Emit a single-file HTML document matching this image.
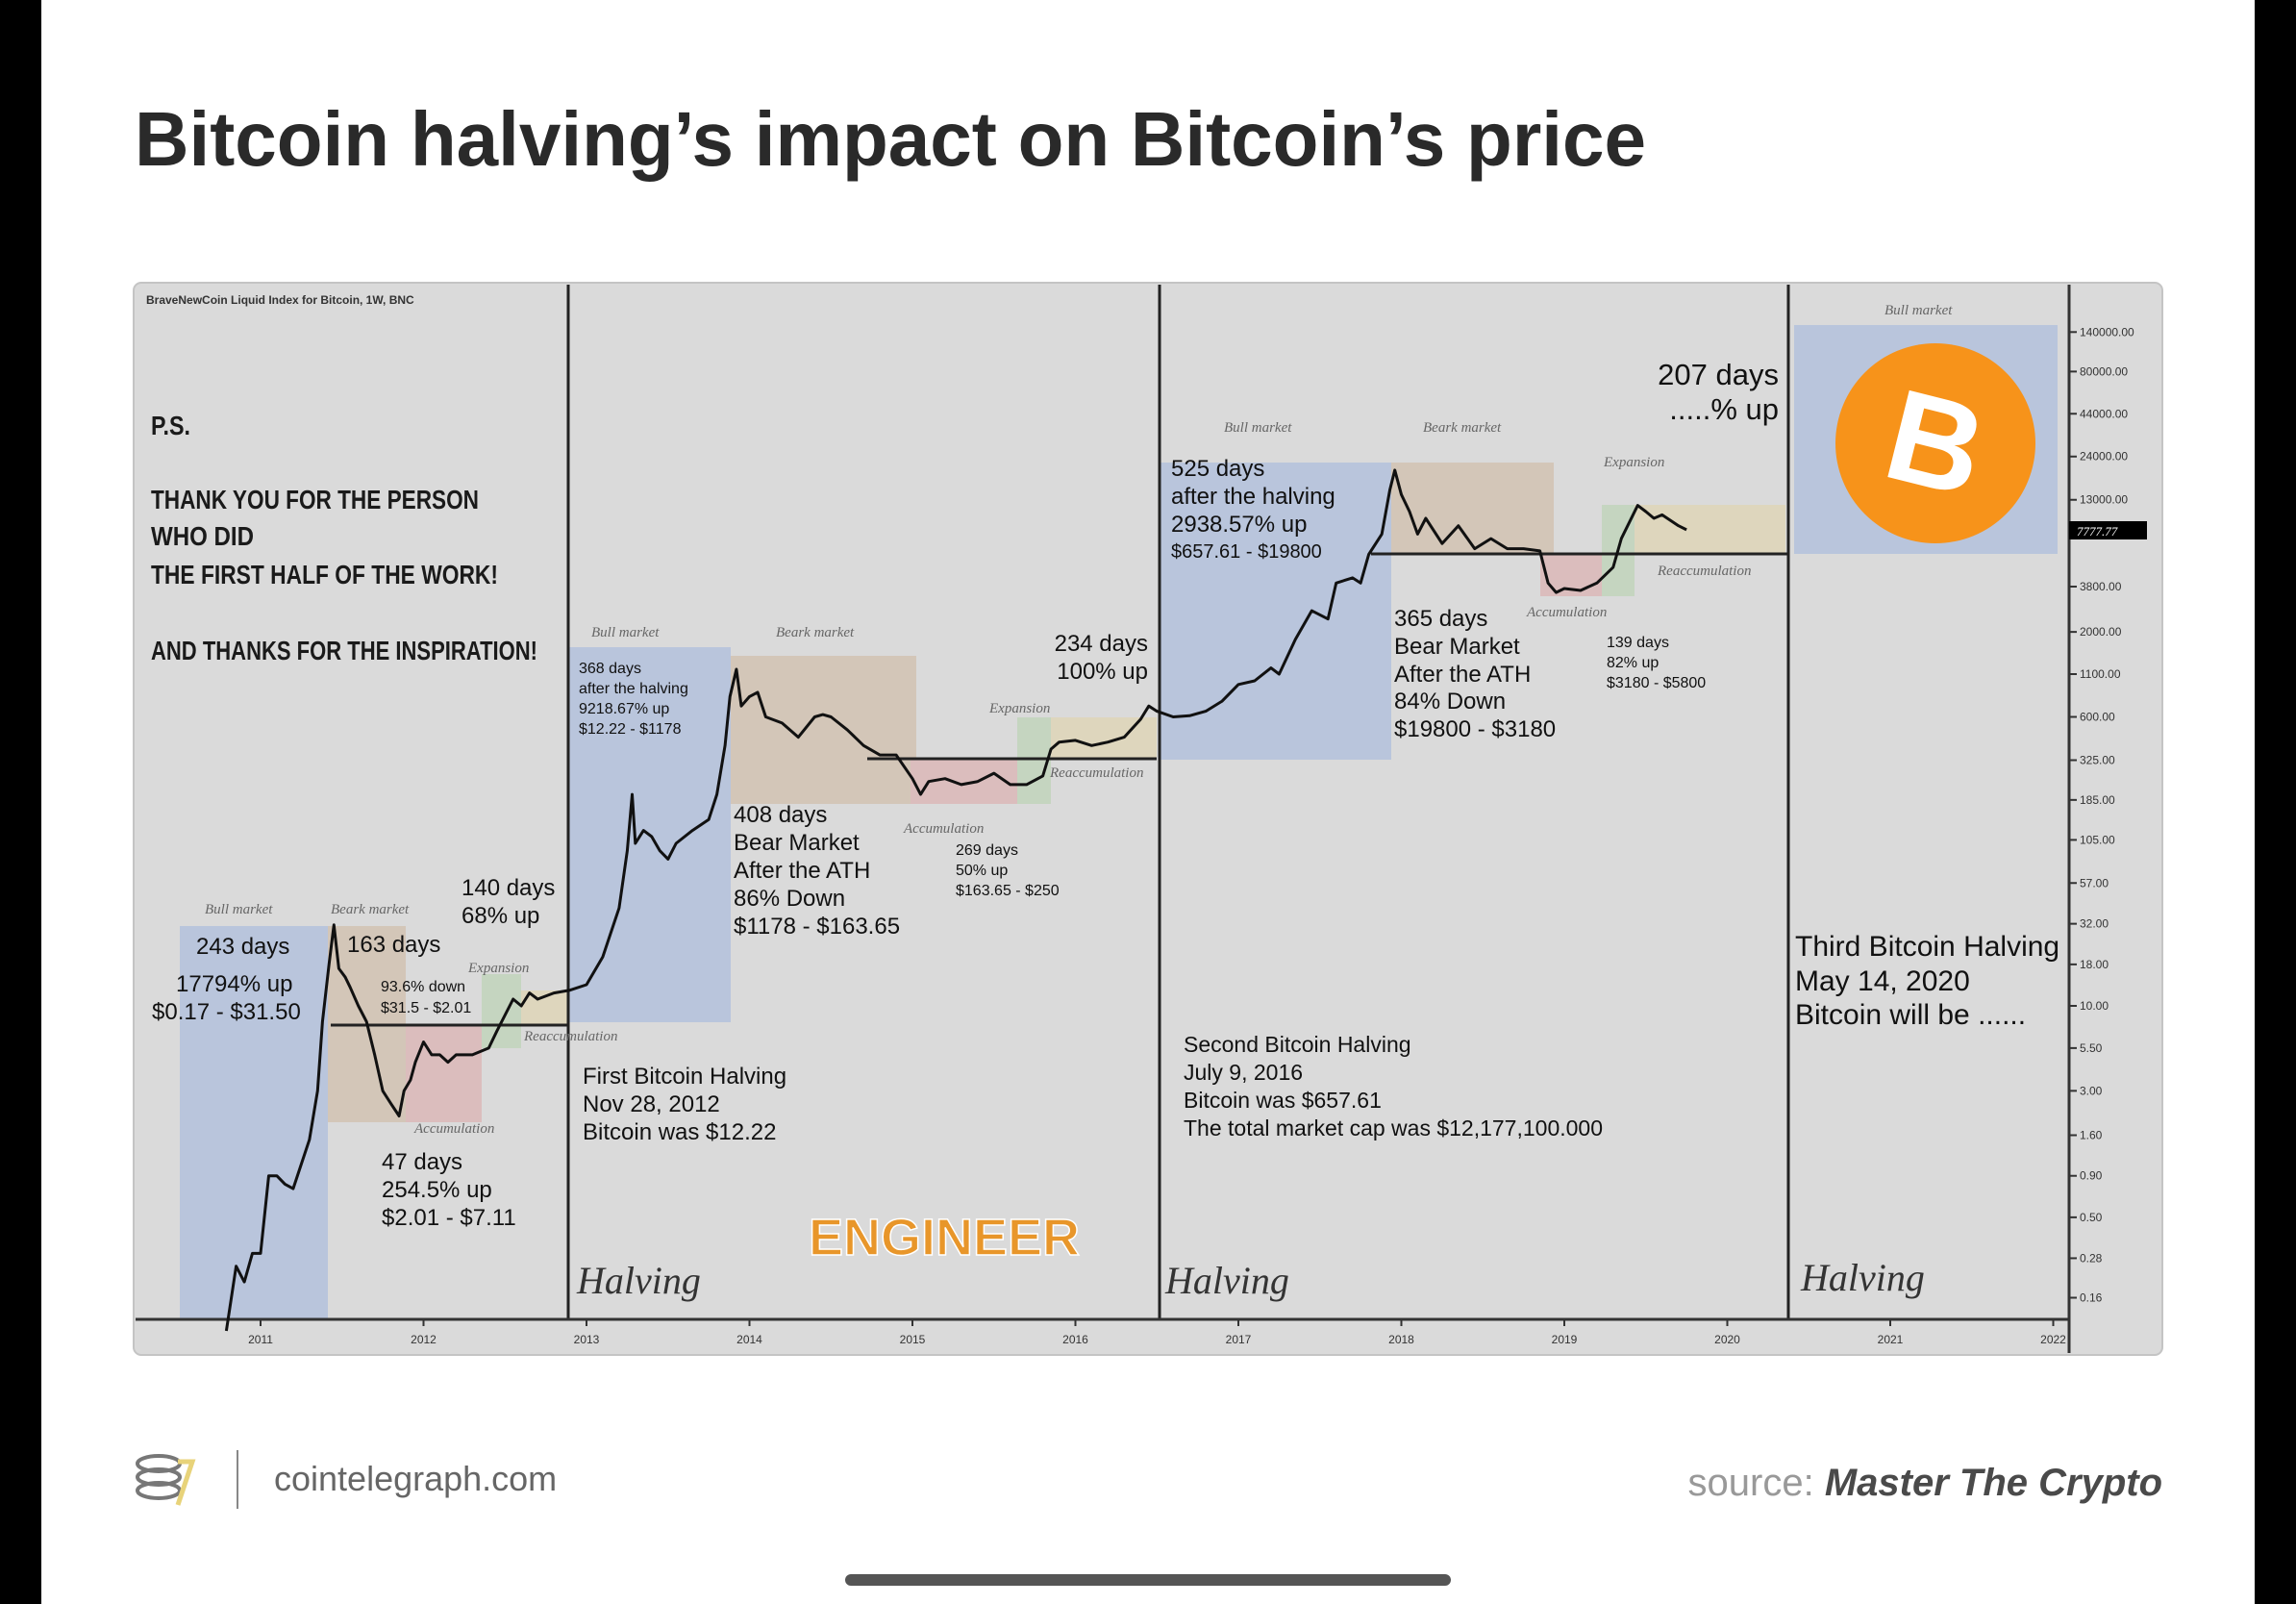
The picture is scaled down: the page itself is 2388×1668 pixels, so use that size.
<!DOCTYPE html>
<html><head><meta charset="utf-8"><style>
html,body{margin:0;padding:0;background:#fff;}
svg{display:block;}
.cond{font-family:"Liberation Sans Narrow","Liberation Sans",sans-serif;font-weight:bold;}
.sans{font-family:"Liberation Sans",sans-serif;}
.it{font-family:"Liberation Serif",serif;font-style:italic;fill:#666;font-size:15px;}
</style></head><body>
<svg id="root" width="2388" height="1668" viewBox="0 0 2388 1668" xmlns="http://www.w3.org/2000/svg">
<rect x="0" y="0" width="2388" height="1668" fill="#fff"/>
<rect x="0" y="0" width="43" height="1668" fill="#000"/>
<rect x="2345" y="0" width="43" height="1668" fill="#000"/>
<text x="140" y="172" class="sans" font-weight="bold" font-size="80" fill="#2a2a2a" textLength="1572" lengthAdjust="spacingAndGlyphs">Bitcoin halving’s impact on Bitcoin’s price</text>

<g>
<rect x="139" y="294" width="2110" height="1115" rx="8" fill="#dadada" stroke="#c4c4c4" stroke-width="2"/>
<g id="boxes">
<rect x="187" y="963" width="154" height="408" fill="#b9c5dc"/>
<rect x="341" y="963" width="81" height="204" fill="#d3c6b8"/>
<rect x="422" y="1066" width="79" height="101" fill="#dbbdbd"/>
<rect x="501" y="1013" width="41" height="77" fill="#c5d5c0"/>
<rect x="542" y="1030" width="49" height="36" fill="#ded6bd"/>
<rect x="592" y="673" width="168" height="390" fill="#b9c5dc"/>
<rect x="760" y="682" width="193" height="154" fill="#d3c6b8"/>
<rect x="947" y="789" width="111" height="47" fill="#dbbdbd"/>
<rect x="1058" y="746" width="35" height="90" fill="#c5d5c0"/>
<rect x="1093" y="746" width="110" height="43" fill="#ded6bd"/>
<rect x="1206" y="481" width="241" height="309" fill="#b9c5dc"/>
<rect x="1447" y="481" width="169" height="95" fill="#d3c6b8"/>
<rect x="1602" y="576" width="81" height="44" fill="#dbbdbd"/>
<rect x="1666" y="525" width="34" height="95" fill="#c5d5c0"/>
<rect x="1700" y="525" width="157" height="51" fill="#ded6bd"/>
<rect x="1866" y="338" width="274" height="238" fill="#b9c5dc"/>
</g>
<line x1="344" y1="1066" x2="591" y2="1066" stroke="#222" stroke-width="3"/>
<line x1="902" y1="789" x2="1203" y2="789" stroke="#222" stroke-width="3"/>
<line x1="1426" y1="576" x2="1860" y2="576" stroke="#222" stroke-width="3"/>
<line x1="591" y1="296" x2="591" y2="1372" stroke="#222" stroke-width="3"/>
<line x1="1206" y1="296" x2="1206" y2="1372" stroke="#222" stroke-width="3"/>
<line x1="1860" y1="296" x2="1860" y2="1372" stroke="#222" stroke-width="3"/>
<line x1="141" y1="1372" x2="2152" y2="1372" stroke="#333" stroke-width="3"/>
<line x1="2152" y1="296" x2="2152" y2="1407" stroke="#333" stroke-width="3"/>
<g id="xaxis"></g>
<g id="yaxis"></g>
<polyline id="price" fill="none" stroke="#111" stroke-width="3" stroke-linejoin="round"/>
<rect x="2152" y="542" width="81" height="19" fill="#000"/>
<text x="2160" y="557" font-size="13" fill="#fff" font-family="Liberation Serif,serif" font-style="italic">7777.77</text>

<circle cx="2013" cy="461" r="104" fill="#f7931a"/>
<text x="2013" y="507" text-anchor="middle" class="sans" font-weight="bold" font-size="135" fill="#fff" transform="rotate(14 2013 461)">B</text>

<text x="152" y="316" class="sans" font-weight="bold" font-size="12" fill="#333">BraveNewCoin Liquid Index for Bitcoin, 1W, BNC</text>
<g class="cond" font-size="28" fill="#1a1a1a">
<text x="157" y="452" textLength="41" lengthAdjust="spacingAndGlyphs">P.S.</text>
<text x="157" y="529" textLength="341" lengthAdjust="spacingAndGlyphs">THANK YOU FOR THE PERSON</text>
<text x="157" y="567" textLength="107" lengthAdjust="spacingAndGlyphs">WHO DID</text>
<text x="157" y="607" textLength="361" lengthAdjust="spacingAndGlyphs">THE FIRST HALF OF THE WORK!</text>
<text x="157" y="686" textLength="402" lengthAdjust="spacingAndGlyphs">AND THANKS FOR THE INSPIRATION!</text>
</g>

<g class="sans" fill="#111" font-size="24">
<text x="204" y="992">243 days</text>
<text x="183" y="1031">17794% up</text>
<text x="158" y="1060">$0.17 - $31.50</text>
<text x="361" y="990">163 days</text>
<text x="480" y="931">140 days</text>
<text x="480" y="960">68% up</text>
<text x="397" y="1216">47 days</text>
<text x="397" y="1245">254.5% up</text>
<text x="397" y="1274">$2.01 - $7.11</text>
<text x="763" y="855">408 days</text>
<text x="763" y="884">Bear Market</text>
<text x="763" y="913">After the ATH</text>
<text x="763" y="942">86% Down</text>
<text x="763" y="971">$1178 - $163.65</text>
<text x="1194" y="677" text-anchor="end">234 days</text>
<text x="1194" y="706" text-anchor="end">100% up</text>
<text x="606" y="1127">First Bitcoin Halving</text>
<text x="606" y="1156">Nov 28, 2012</text>
<text x="606" y="1185">Bitcoin was $12.22</text>
<text x="1218" y="495">525 days</text>
<text x="1218" y="524">after the halving</text>
<text x="1218" y="553">2938.57% up</text>
<text x="1218" y="580" font-size="20">$657.61 - $19800</text>
<text x="1450" y="651">365 days</text>
<text x="1450" y="680">Bear Market</text>
<text x="1450" y="709">After the ATH</text>
<text x="1450" y="737">84% Down</text>
<text x="1450" y="766">$19800 - $3180</text>
<text x="1850" y="400" text-anchor="end" font-size="31">207 days</text>
<text x="1850" y="436" text-anchor="end" font-size="31">.....% up</text>
<text x="1231" y="1094" font-size="23">Second Bitcoin Halving</text>
<text x="1231" y="1123" font-size="23">July 9, 2016</text>
<text x="1231" y="1152" font-size="23">Bitcoin was $657.61</text>
<text x="1231" y="1181" font-size="23">The total market cap was $12,177,100.000</text>
<text x="1867" y="994" font-size="30">Third Bitcoin Halving</text>
<text x="1867" y="1030" font-size="30">May 14, 2020</text>
<text x="1867" y="1065" font-size="30">Bitcoin will be ......</text>
</g>
<g class="sans" fill="#111" font-size="16">
<text x="396" y="1031">93.6% down</text>
<text x="396" y="1053">$31.5 - $2.01</text>
<text x="602" y="700">368 days</text>
<text x="602" y="721">after the halving</text>
<text x="602" y="742">9218.67% up</text>
<text x="602" y="763">$12.22 - $1178</text>
<text x="994" y="889">269 days</text>
<text x="994" y="910">50% up</text>
<text x="994" y="931">$163.65 - $250</text>
<text x="1671" y="673">139 days</text>
<text x="1671" y="694">82% up</text>
<text x="1671" y="715">$3180 - $5800</text>
</g>
<g class="it">
<text x="213" y="950">Bull market</text><text x="344" y="950">Beark market</text>
<text x="487" y="1011">Expansion</text><text x="545" y="1082">Reaccumulation</text><text x="431" y="1178">Accumulation</text>
<text x="615" y="662">Bull market</text><text x="807" y="662">Beark market</text>
<text x="1029" y="741">Expansion</text><text x="1092" y="808">Reaccumulation</text><text x="940" y="866">Accumulation</text>
<text x="1273" y="449">Bull market</text><text x="1480" y="449">Beark market</text>
<text x="1668" y="485">Expansion</text><text x="1724" y="598">Reaccumulation</text><text x="1588" y="641">Accumulation</text>
<text x="1960" y="327">Bull market</text>
</g>
<g font-family="Liberation Serif,serif" font-style="italic" font-size="40" fill="#333">
<text x="600" y="1345">Halving</text><text x="1212" y="1345">Halving</text><text x="1873" y="1342">Halving</text>
</g>
<text x="982" y="1305" text-anchor="middle" class="sans" font-weight="bold" font-size="54" fill="#e8962a" stroke="#fff" stroke-width="1.5">ENGINEER</text>
</g>

<g>
<g fill="none" stroke="#777" stroke-width="4">
<ellipse cx="165" cy="1522" rx="22" ry="8"/><ellipse cx="165" cy="1536" rx="22" ry="8"/><ellipse cx="165" cy="1550" rx="22" ry="8"/>
<path d="M185 1520 L200 1520 L185 1565" stroke="#e8d37a" stroke-width="5"/>
</g>
<line x1="247" y1="1508" x2="247" y2="1569" stroke="#888" stroke-width="2"/>
<text x="285" y="1550" class="sans" font-size="36" fill="#666">cointelegraph.com</text>
<text x="2249" y="1555" text-anchor="end" font-size="40"><tspan class="sans" fill="#999">source: </tspan><tspan class="sans" font-style="italic" font-weight="bold" fill="#4a4a4a">Master The Crypto</tspan></text>
</g>
<rect x="879" y="1637" width="630" height="12" rx="6" fill="#555"/>
</svg>
<script>
const years = [2011,2012,2013,2014,2015,2016,2017,2018,2019,2020,2021,2022];
const yTickValues = [140000,80000,44000,24000,13000,3800,2000,1100,600,325,185,105,57,32,18,10,5.5,3,1.6,0.9,0.5,0.28,0.16];
const priceDates = [2010.79,2010.85,2010.9,2010.95,2011.0,2011.05,2011.1,2011.15,2011.2,2011.3,2011.35,2011.38,2011.42,2011.45,2011.48,2011.52,2011.55,2011.6,2011.65,2011.7,2011.75,2011.8,2011.85,2011.88,2011.92,2011.95,2012.0,2012.05,2012.1,2012.15,2012.2,2012.3,2012.4,2012.45,2012.55,2012.6,2012.65,2012.7,2012.8,2012.9,2013.0,2013.1,2013.2,2013.25,2013.28,2013.3,2013.35,2013.4,2013.45,2013.5,2013.55,2013.65,2013.75,2013.8,2013.85,2013.88,2013.92,2013.95,2014.0,2014.05,2014.1,2014.2,2014.3,2014.4,2014.45,2014.5,2014.6,2014.7,2014.8,2014.9,2015.0,2015.05,2015.1,2015.2,2015.3,2015.4,2015.5,2015.6,2015.7,2015.8,2015.85,2015.9,2016.0,2016.1,2016.2,2016.3,2016.4,2016.45,2016.5,2016.6,2016.7,2016.8,2016.9,2017.0,2017.1,2017.2,2017.25,2017.35,2017.45,2017.55,2017.6,2017.7,2017.75,2017.8,2017.88,2017.93,2017.96,2018.0,2018.05,2018.1,2018.15,2018.25,2018.35,2018.45,2018.55,2018.65,2018.75,2018.85,2018.9,2018.95,2019.0,2019.1,2019.2,2019.3,2019.35,2019.45,2019.5,2019.55,2019.6,2019.7,2019.75];
const priceValues = [0.1,0.25,0.2,0.3,0.3,0.9,0.9,0.8,0.75,1.5,3,8,18,31.5,17,15,13,10,8,5,3,2.5,2.1,3,3.5,4.5,6,5,5,4.5,5,5,5.5,7,11,10,12,11,12,12.5,13.5,20,40,90,200,100,120,110,90,80,100,120,140,200,400,800,1178,700,800,850,600,550,450,600,620,600,500,400,350,350,250,200,240,250,230,240,270,230,230,260,380,420,430,400,420,450,580,700,650,600,610,650,750,950,1000,1200,1100,1800,2700,2400,4000,4300,4000,6000,8000,15000,19800,14000,11000,8000,10000,7000,9000,6500,7500,6500,6500,6300,4000,3500,3700,3600,4000,5000,7500,12000,11000,10000,10500,9000,8500];
const xScale = yr => 271 + (yr - 2011) * 169.5;
const yScale = v => 1046 - 169 * Math.log10(v / 10);
const NS = 'http://www.w3.org/2000/svg';
const xg = document.getElementById('xaxis');
years.forEach(yr => {
  const x = xScale(yr);
  const l = document.createElementNS(NS,'line');
  l.setAttribute('x1',x);l.setAttribute('x2',x);l.setAttribute('y1',1372);l.setAttribute('y2',1379);
  l.setAttribute('stroke','#333');l.setAttribute('stroke-width','2');
  
  
  xg.appendChild(l);
  const t = document.createElementNS(NS,'text');
  t.setAttribute('x',x);t.setAttribute('y',1397);t.setAttribute('text-anchor','middle');
  t.setAttribute('font-family','Liberation Sans,sans-serif');t.setAttribute('font-size','12');t.setAttribute('fill','#333');
  t.textContent = yr;
  
  
  xg.appendChild(t);
});
const yg = document.getElementById('yaxis');
yTickValues.forEach(v => {
  const y = yScale(v);
  const l = document.createElementNS(NS,'line');
  l.setAttribute('x1',2152);l.setAttribute('x2',2160);l.setAttribute('y1',y);l.setAttribute('y2',y);
  l.setAttribute('stroke','#333');l.setAttribute('stroke-width','2');
  
  
  yg.appendChild(l);
  const t = document.createElementNS(NS,'text');
  t.setAttribute('x',2163);t.setAttribute('y',y+4);
  t.setAttribute('font-family','Liberation Sans,sans-serif');t.setAttribute('font-size','12');t.setAttribute('fill','#333');
  t.textContent = v.toFixed(2);
  
  
  yg.appendChild(t);
});
document.getElementById('price').setAttribute('points', priceDates.map((d,i)=>xScale(d).toFixed(1)+','+yScale(priceValues[i]).toFixed(1)).join(' '));
</script>
</body></html>
